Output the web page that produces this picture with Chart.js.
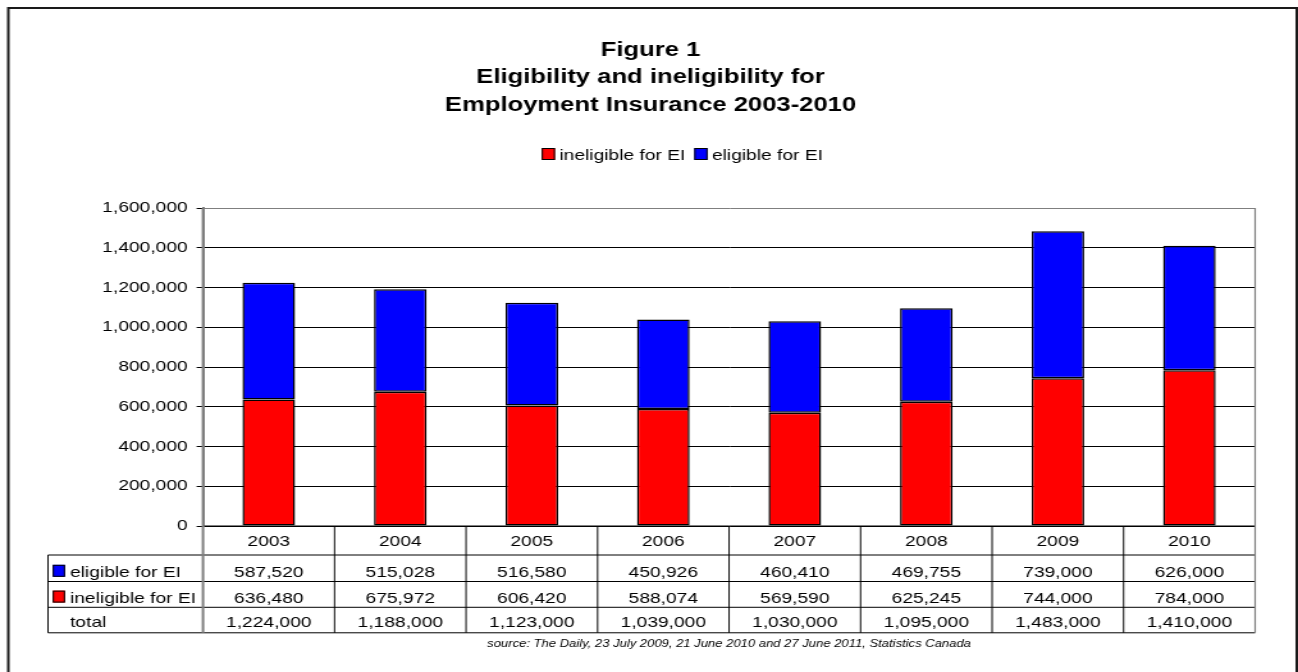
<!DOCTYPE html>
<html>
<head>
<meta charset="utf-8">
<title>Eligibility and ineligibility for Employment Insurance 2003-2010</title>
<script src="https://cdn.jsdelivr.net/npm/chart.js@4/dist/chart.umd.min.js"></script>
<style>
  html, body { margin: 0; padding: 0; background: #fff; overflow: hidden; }
  /* the drawing surface is laid out 1014 units wide and shown 1298px wide,
     which gives the wide lettering of the printed figure */
  #c { display: block; width: 1298px !important; height: 672px !important; }
</style>
</head>
<body>
<canvas id="c" width="1014" height="672"></canvas>
<script>
// ---- data ----
const years = ['2003', '2004', '2005', '2006', '2007', '2008', '2009', '2010'];
const eligible = [587520, 515028, 516580, 450926, 460410, 469755, 739000, 626000];
const ineligible = [636480, 675972, 606420, 588074, 569590, 625245, 744000, 784000];
const totals = [1224000, 1188000, 1123000, 1039000, 1030000, 1095000, 1483000, 1410000];
const yMin = 0;
const yMax = 1600000;
const yStep = 200000;

const titleLines = ['Figure 1', 'Eligibility and ineligibility for', 'Employment Insurance 2003-2010'];
const sourceNote = 'source: The Daily, 23 July 2009, 21 June 2010 and 27 June 2011, Statistics Canada';
const rowLabels = ['eligible for EI', 'ineligible for EI', 'total'];

// ---- look ----
const FONT = '"Liberation Sans", Arial, Helvetica, sans-serif';
const RED = '#ff0000';
const BLUE = '#0000ff';
const fmt = v => Number(v).toLocaleString('en-US');

// layout of the frame, the data table and the headings (canvas units)
const L = {
  frameLeft: 6.5, frameTop: 8, frameRight: 1013,
  titleX: 508.2, titleBase: 55.5, titleStep: 27.5,
  legendX: 423.2, legendKeyTop: 148, legendBase: 159.5,
  tableLeft: 37.5,
  rows: [526, 555, 581.5, 607.3, 632.8],
  rowBase: [545.5, 576.8, 602.6, 627],
  keyX: 41.2, keyW: 9.6, keyH: 12,
  labelX: 54.7,
  sourceBase: 646.5
};

const tablePlugin = {
  id: 'frameAndTable',
  afterDraw(chart) {
    const { ctx, chartArea: a, scales: { x } } = chart;
    const ds = chart.data.datasets;
    ctx.save();

    // outer frame
    ctx.strokeStyle = '#1a1a1a';
    ctx.lineWidth = 2;
    ctx.strokeRect(L.frameLeft, L.frameTop, L.frameRight - L.frameLeft, 700);

    // title
    ctx.fillStyle = '#000';
    ctx.textAlign = 'center';
    ctx.textBaseline = 'alphabetic';
    ctx.font = 'bold 20px ' + FONT;
    titleLines.forEach((t, i) => ctx.fillText(t, L.titleX, L.titleBase + i * L.titleStep));

    // legend (same order as the stack, bottom segment first)
    ctx.font = '15px ' + FONT;
    ctx.textAlign = 'left';
    let lx = L.legendX;
    ds.forEach(d => {
      ctx.fillStyle = d.backgroundColor;
      ctx.fillRect(lx, L.legendKeyTop, 10.4, 12);
      ctx.strokeStyle = '#000';
      ctx.lineWidth = 1;
      ctx.strokeRect(lx + 0.5, L.legendKeyTop + 0.5, 9.4, 11);
      lx += 10.4 + 3.4;
      ctx.fillStyle = '#000';
      ctx.fillText(d.label, lx, L.legendBase);
      lx += ctx.measureText(d.label).width + 7;
    });

    // data table under the plot
    const colW = (a.right - a.left) / years.length;
    const bottom = L.rows[L.rows.length - 1];
    ctx.strokeStyle = '#000';
    ctx.lineWidth = 1;
    ctx.beginPath();
    ctx.moveTo(a.left, L.rows[0]);
    ctx.lineTo(a.right, L.rows[0]);
    for (let r = 1; r < L.rows.length; r++) {
      ctx.moveTo(L.tableLeft, L.rows[r]);
      ctx.lineTo(a.right, L.rows[r]);
    }
    for (let i = 1; i < years.length; i++) {
      const cx = a.left + i * colW;
      ctx.moveTo(cx, L.rows[0]);
      ctx.lineTo(cx, bottom);
    }
    ctx.moveTo(L.tableLeft, L.rows[1]);
    ctx.lineTo(L.tableLeft, bottom);
    ctx.stroke();

    // value axis line continues down the table; plot edge on the right
    ctx.strokeStyle = '#7f7f7f';
    ctx.lineWidth = 2;
    ctx.beginPath();
    ctx.moveTo(a.left, a.top);
    ctx.lineTo(a.left, bottom);
    ctx.stroke();
    ctx.lineWidth = 1.2;
    ctx.beginPath();
    ctx.moveTo(a.right, a.top);
    ctx.lineTo(a.right, bottom);
    ctx.stroke();

    // cell text
    ctx.fillStyle = '#000';
    ctx.font = '15px ' + FONT;
    ctx.textAlign = 'center';
    const cols = [eligible, ineligible, totals];
    years.forEach((yr, i) => {
      const cx = x.getPixelForValue(i);
      ctx.fillText(yr, cx, L.rowBase[0]);
      cols.forEach((arr, r) => ctx.fillText(fmt(arr[i]), cx, L.rowBase[r + 1]));
    });

    // row headers with their keys
    ctx.textAlign = 'left';
    const keyColors = [ds[1].backgroundColor, ds[0].backgroundColor];
    rowLabels.forEach((lab, r) => {
      const base = L.rowBase[r + 1];
      if (r < 2) {
        ctx.fillStyle = keyColors[r];
        ctx.fillRect(L.keyX, base - L.keyH, L.keyW, L.keyH);
        ctx.strokeStyle = '#000';
        ctx.lineWidth = 1;
        ctx.strokeRect(L.keyX + 0.5, base - L.keyH + 0.5, L.keyW - 1, L.keyH - 1);
      }
      ctx.fillStyle = '#000';
      ctx.fillText(lab, L.labelX, base);
    });

    // source note
    ctx.font = 'italic 10.2px ' + FONT;
    ctx.textAlign = 'center';
    ctx.fillText(sourceNote, (a.left + a.right) / 2, L.sourceBase);

    ctx.restore();
  }
};

new Chart(document.getElementById('c'), {
  type: 'bar',
  data: {
    labels: years,
    datasets: [
      { label: 'ineligible for EI', data: ineligible, backgroundColor: RED,
        borderColor: '#000', borderWidth: 1.5, borderSkipped: false },
      { label: 'eligible for EI', data: eligible, backgroundColor: BLUE,
        borderColor: '#000', borderWidth: 1.5, borderSkipped: false }
    ]
  },
  options: {
    responsive: false,
    maintainAspectRatio: false,
    devicePixelRatio: 1,
    animation: false,
    layout: { padding: { top: 208, right: 33.5, bottom: 146, left: 0 } },
    datasets: { bar: { categoryPercentage: 1, barPercentage: 0.4 } },
    plugins: { legend: { display: false }, title: { display: false }, tooltip: { enabled: false } },
    scales: {
      x: { stacked: true, display: false },
      y: {
        stacked: true,
        min: yMin,
        max: yMax,
        afterFit: s => { s.width = 158.6; },
        ticks: {
          stepSize: yStep,
          color: '#000',
          padding: 7,
          font: { family: FONT, size: 15 },
          callback: v => fmt(v)
        },
        grid: {
          color: c => (c.tick && c.tick.value === yMax) ? '#7f7f7f' : '#000',
          lineWidth: 1,
          tickLength: 5,
          tickColor: '#000'
        },
        border: { display: true, color: '#7f7f7f', width: 2 }
      }
    }
  },
  plugins: [tablePlugin]
});
</script>
</body>
</html>
